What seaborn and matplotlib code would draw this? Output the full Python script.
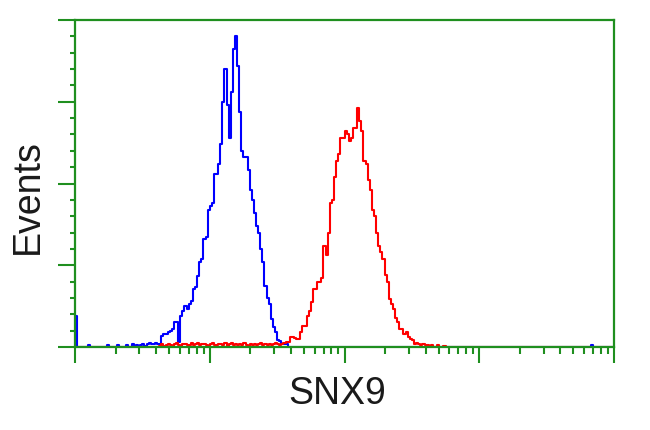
import numpy as np
import pandas as pd
import matplotlib
matplotlib.use('Agg')
import matplotlib.pyplot as plt
from matplotlib.ticker import LogLocator, MultipleLocator, NullFormatter
import seaborn as sns

# histogram channels: 256 channels over 4 log decades
n_channels = 256
per_decade = 64

# blue (control) histogram, counts scaled 0-100
blue_blips = {0: 9.5, 6: 0.6, 15: 0.5, 20: 0.6, 24: 0.5, 245: 0.5}
blue_start = 27
blue_counts = [0.8, 0.3, 0.6, 0.0, 0.7, 1.0, 0.4, 0.9, 1.2, 0.8, 1.0, 1.3, 0.8,
               1.0, 3.5, 4.0, 4.0, 4.5, 5.0, 5.5, 7.6, 7.6, 1.5,
               9.5, 11, 12.5, 11.5, 13, 14, 17.7, 18.5, 21.6, 26,
               27, 33, 33.5, 42, 43, 44, 53, 53, 56, 62,
               75, 85, 74, 64, 78, 91, 95, 86, 72, 60,
               58, 58, 54, 48, 45, 41, 37, 35, 30, 26,
               18.6, 15, 13, 8.5, 6, 4.5, 2, 1.8, 1, 1, 0.8]

# red (SNX9 stained) histogram
red_base_start = 40
red_base = [0.4, 0.8, 0.3, 0.6, 1.0, 0.5, 0.3, 0.9, 1.2, 0.6,
            0.4, 0.8, 1.0, 0.7, 0.5, 1.1, 0.6, 0.9, 1.3, 0.5,
            0.8, 1.0, 0.6, 0.4, 0.9, 1.2, 0.7, 0.5, 1.0, 0.8,
            0.6, 1.1, 0.4, 0.9, 1.3, 0.6, 0.8, 0.5, 1.0, 0.7,
            1.2, 0.6, 0.4, 0.9, 0.7, 1.0, 0.5, 0.8, 1.1, 0.6,
            0.9, 0.7, 1.0, 0.5, 0.8, 1.2, 0.9, 0.6, 1.0, 1.3, 1.5]
red_peak_start = 101
red_peak = [1.5, 3, 3, 2.6, 2.4, 2.4, 4.5, 6.4, 6.4, 9.5,
            11, 13.7, 17.7, 17.7, 20, 20, 21, 31, 28, 35,
            44, 45, 52, 57, 59, 64, 64, 66, 65, 63,
            64, 67, 67, 73, 69, 66, 57, 56, 51, 48,
            42, 40, 35, 31, 29, 27, 22, 20, 14.6, 13,
            11.6, 9, 7.5, 5.5, 5.5, 4, 4.5, 3, 2.4, 2,
            1, 1.2, 0.8, 0.5, 0.8, 0.5, 0.6, 0.3, 0.5, 0,
            0, 0.5, 0, 0, 0.4]

x_label = 'SNX9'
y_label = 'Events'


def build_counts(parts, blips=None):
    counts = np.zeros(n_channels)
    for start, vals in parts:
        counts[start:start + len(vals)] = vals
    if blips:
        for ch, v in blips.items():
            counts[ch] = v
    return counts


blue = build_counts([(blue_start, blue_counts)], blue_blips)
red = build_counts([(red_base_start, red_base), (red_peak_start, red_peak)])

edges = 10 ** (np.arange(n_channels + 1) / per_decade)
df = pd.DataFrame({'x': edges,
                   'blue': np.append(blue, blue[-1]),
                   'red': np.append(red, red[-1])})

green = '#1f8f1f'

sns.set_style('ticks')
plt.rcParams['font.family'] = ['Liberation Sans', 'DejaVu Sans']

fig = plt.figure(figsize=(6.5, 4.31), dpi=100)
ax = fig.add_axes([75 / 650, 83 / 431, 539 / 650, 327 / 431])

sns.lineplot(data=df, x='x', y='blue', drawstyle='steps-post', color='#0000ff',
             lw=1.5, errorbar=None, ax=ax)
sns.lineplot(data=df, x='x', y='red', drawstyle='steps-post', color='#ff0000',
             lw=1.5, errorbar=None, ax=ax)

ax.set_xscale('log')
ax.set_xlim(1, 1e4)
ax.set_ylim(0, 100)
ax.xaxis.set_major_locator(LogLocator(base=10, numticks=10))
ax.xaxis.set_minor_locator(LogLocator(base=10, subs=np.arange(2, 10), numticks=50))
ax.xaxis.set_minor_formatter(NullFormatter())
ax.yaxis.set_major_locator(MultipleLocator(25))
ax.yaxis.set_minor_locator(MultipleLocator(5))
ax.tick_params(labelbottom=False, labelleft=False)
ax.tick_params(axis='both', which='both', color=green, direction='out', width=1.5)
ax.tick_params(axis='y', which='major', length=12)
ax.tick_params(axis='y', which='minor', length=3.8)
ax.tick_params(axis='x', which='major', length=11.5)
ax.tick_params(axis='x', which='minor', length=5)
for side in ['left', 'right', 'top', 'bottom']:
    ax.spines[side].set_visible(True)
    ax.spines[side].set_color(green)
    ax.spines[side].set_linewidth(1.6)
ax.set_xlabel('')
ax.set_ylabel('')

fig.text(28 / 650, 1 - 197 / 431, y_label, rotation=90, ha='center', va='center',
         fontsize=27, color='#1a1a1a')
fig.text(337 / 650, 1 - 404 / 431, x_label, ha='center', va='baseline',
         fontsize=27, color='#1a1a1a')

fig.savefig('out.png', dpi=100)
